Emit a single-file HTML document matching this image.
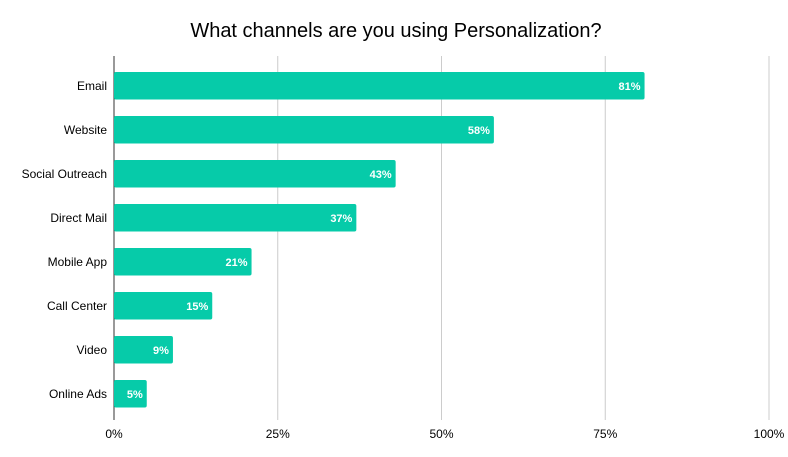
<!DOCTYPE html>
<html><head><meta charset="utf-8"><style>
html,body{margin:0;padding:0;background:#fff;width:788px;height:457px;overflow:hidden}
svg text{font-family:"Liberation Sans",Arial,sans-serif}
</style></head><body>
<svg id="chart" width="788" height="457" xmlns="http://www.w3.org/2000/svg">
<text x="396" y="37" text-anchor="middle" font-size="20" fill="#000">What channels are you using Personalization?</text>
<g id="grid"></g><g id="bars"></g><g id="ylabels"></g><g id="xlabels"></g>
</svg>
<script>
const categories = ["Email","Website","Social Outreach","Direct Mail","Mobile App","Call Center","Video","Online Ads"];
const values = [81,58,43,37,21,15,9,5];
const ticks = [0,25,50,75,100];
const tickLabels = ["0%","25%","50%","75%","100%"];
(function(){
const NS="http://www.w3.org/2000/svg";
const x0=114,x1=769,yTop=56,yBottom=420,first=72,step=44,bh=27.5;
const xs=v=>x0+(x1-x0)*v/100;
const yb=i=>first+i*step;
function mk(tag,attrs,parent){const e=document.createElementNS(NS,tag);for(const k in attrs)e.setAttribute(k,attrs[k]);parent.appendChild(e);return e;}
const grid=document.getElementById('grid'),bars=document.getElementById('bars'),yl=document.getElementById('ylabels'),xl=document.getElementById('xlabels');
ticks.forEach((t,i)=>{
  if(t!==0){const l=mk('line',{x1:xs(t),x2:xs(t),y1:yTop,y2:yBottom,stroke:'#cccccc','stroke-width':1},grid);
  
  }
  const tx=mk('text',{x:xs(t),y:438,'text-anchor':'middle','font-size':12,fill:'#000'},xl);
  tx.textContent=tickLabels[i];
  
  
});
values.forEach((v,i)=>{
  const r=mk('rect',{x:x0,y:yb(i),width:xs(v)-x0,height:bh,rx:2,fill:'#06cba9'},bars);
  
  
  const t=mk('text',{x:xs(v)-4,y:yb(i)+bh/2+4,'text-anchor':'end','font-size':11,'font-weight':'bold',fill:'#fff'},bars);
  t.textContent=v+'%';
  
  
  const c=mk('text',{x:107,y:yb(i)+bh/2+4,'text-anchor':'end','font-size':12,fill:'#000'},yl);
  c.textContent=categories[i];
  
  
});
const ax=mk('line',{x1:x0,x2:x0,y1:yTop,y2:yBottom,stroke:'#333','stroke-width':1},grid);


})();
</script>
</body></html>
